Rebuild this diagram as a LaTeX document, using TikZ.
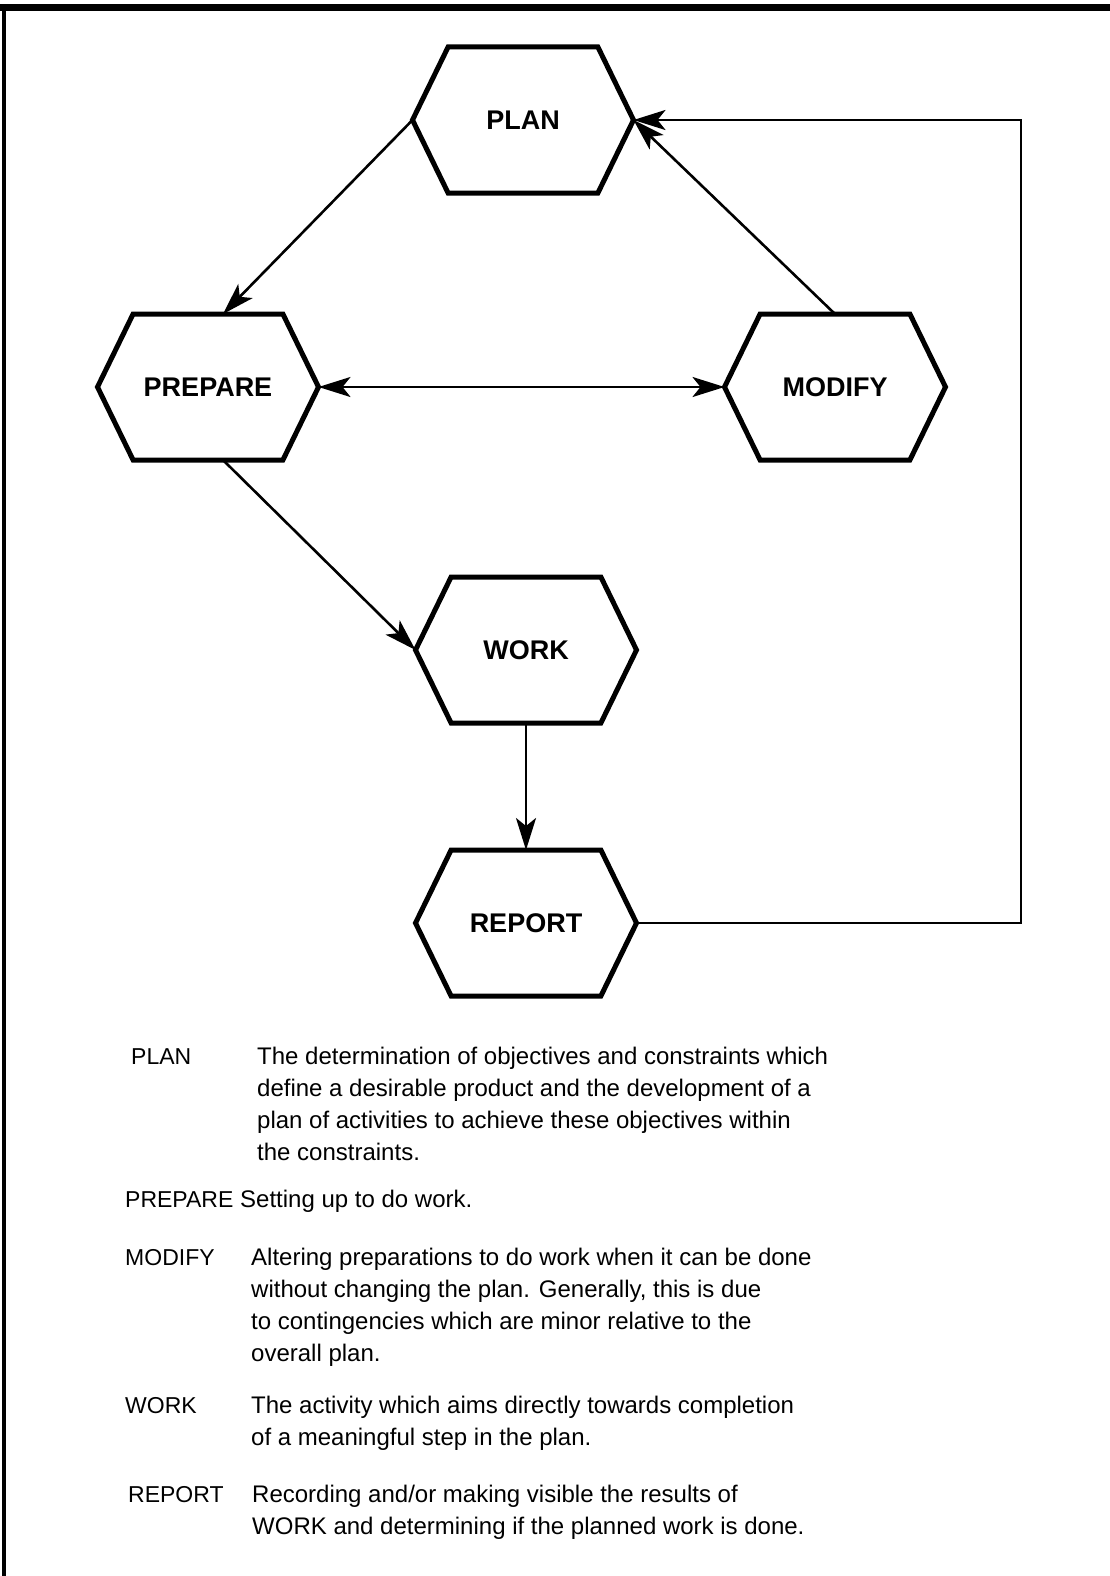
\documentclass[tikz,border=0pt]{standalone}
\usepackage{fontspec}
\setmainfont{Liberation Sans}
\usepackage{tikz}
\usetikzlibrary{arrows.meta,positioning,shapes.symbols,calc}
\tikzset{
    stage/.style={draw, signal, signal to=east and west, signal pointer angle=128,
    minimum width=221pt, minimum height=146pt, line width=5pt, inner sep=0pt,
    outer sep=0pt, font=\fontsize{27}{32}\selectfont\bfseries},
    flow/.style={line width=2.6pt, >={Stealth[length=32pt,width=20pt,inset=8pt]}},
    termlabel/.style={font=\fontsize{23}{32}\selectfont, anchor=base west, inner sep=0pt},
    termtext/.style={font=\fontsize{24}{32}\selectfont, anchor=base west, inner sep=0pt},
}
\newcommand{\glosslines}[1]{\begin{tabular}[t]{@{}l@{}}#1\end{tabular}}
\begin{document}
\begin{tikzpicture}[x=1pt, y=-1pt]
    \useasboundingbox (0,0) rectangle (1110,1576);
    % --- frame ---
    \draw[line width=7pt] (0,8) -- (1110,8);
    \draw[line width=4pt] (4,5) -- (4,1576);
    % --- stages ---
    \node[stage] (plan) at (523,120) {PLAN};
    \node[stage] (prepare) at (208,387) {PREPARE};
    \node[stage] (modify) at (835,387) {MODIFY};
    \node[stage] (work) at (526,650) {WORK};
    \node[stage] (report) at (526,923) {REPORT};
    \coordinate (loop) at (1021,120);
    % --- flows ---
    \draw[flow,->] (plan.west) -- ($(prepare.north)+(15,0)$);
    \draw[flow,<->] (prepare.east) -- (modify.west);
    \draw[flow,->] (modify.north) -- (plan.east);
    \draw[flow,->] ($(prepare.south)+(15,0)$) -- (work.west);
    \draw[flow,->] (work.south) -- (report.north);
    \draw[flow,->] (report.east) -| (loop) -- (plan.east);
    % --- glossary ---
    \node[termlabel] (tplan) at (131,1064) {PLAN};
    \node[termtext] (dplan) at (257,1064) {\glosslines{The determination of objectives and constraints which\\
        define a desirable product and the development of a\\
        plan of activities to achieve these objectives within\\
        the constraints.}};
    \node[termlabel] (tprepare) at (125,1207) {PREPARE};
    \node[termtext] (dprepare) at (240,1207) {Setting up to do work.};
    \node[termlabel] (tmodify) at (125,1265) {MODIFY};
    \node[termtext] (dmodify) at (251,1265) {\glosslines{Altering preparations to do work when it can be done\\
        without changing the plan. Generally, this is due\\
        to contingencies which are minor relative to the\\
        overall plan.}};
    \node[termlabel] (twork) at (125,1413) {WORK};
    \node[termtext] (dwork) at (251,1413) {\glosslines{The activity which aims directly towards completion\\
        of a meaningful step in the plan.}};
    \node[termlabel] (treport) at (128,1502) {REPORT};
    \node[termtext] (dreport) at (252,1502) {\glosslines{Recording and/or making visible the results of\\
        WORK and determining if the planned work is done.}};
\end{tikzpicture}
\end{document}
